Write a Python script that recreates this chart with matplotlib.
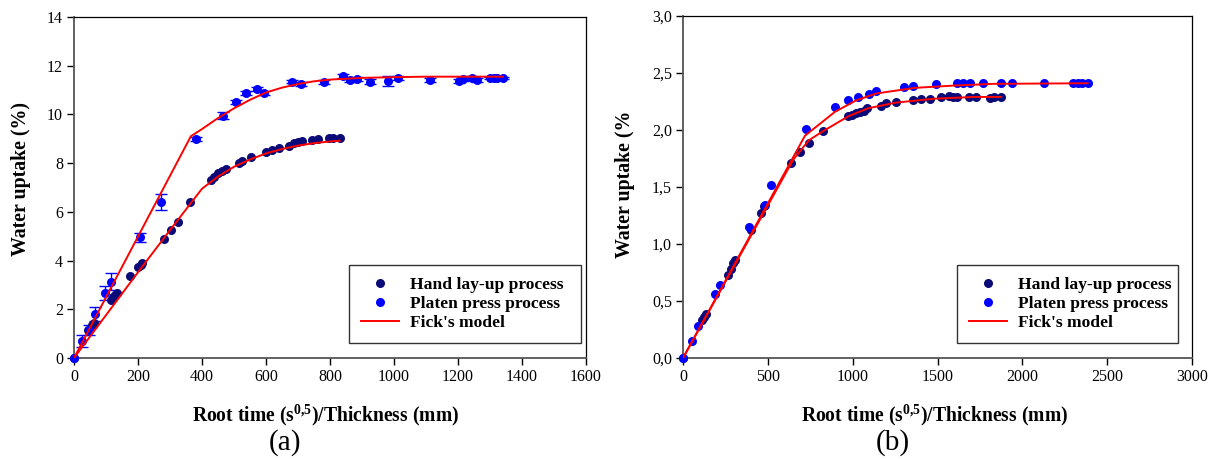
import matplotlib
matplotlib.use("Agg")
import matplotlib.pyplot as plt
from matplotlib.ticker import FuncFormatter, MultipleLocator

plt.rcParams['font.family'] = ['Liberation Serif', 'DejaVu Serif']
plt.rcParams['mathtext.fontset'] = 'custom'
plt.rcParams['mathtext.rm'] = 'Liberation Serif'
plt.rcParams['mathtext.bf'] = 'Liberation Serif:bold'

# ---------------- data: panel (a) ----------------
a_hand_x = [0, 45, 55, 62, 116, 122, 128, 134, 176, 200, 209, 214, 281, 303, 325, 363,
            427, 438, 450, 462, 474, 515, 524, 552, 599, 618, 642, 671, 689, 701, 713,
            743, 761, 797, 809, 830]
a_hand_y = [0, 1.15, 1.35, 1.45, 2.38, 2.5, 2.59, 2.68, 3.37, 3.75, 3.82, 3.88, 4.87, 5.25,
            5.6, 6.42, 7.3, 7.44, 7.58, 7.67, 7.76, 7.99, 8.08, 8.26, 8.45, 8.54, 8.63,
            8.7, 8.81, 8.85, 8.89, 8.97, 9.0, 9.04, 9.04, 9.03]
a_plat_x = [0, 24, 48, 65, 98, 115, 207, 272, 381, 467, 505, 538, 571, 594, 682, 710, 780,
            842, 863, 883, 924, 980, 1013, 1114, 1203, 1217, 1244, 1259, 1299, 1311, 1323, 1340]
a_plat_y = [0, 0.71, 1.15, 1.8, 2.68, 3.13, 4.95, 6.42, 9.0, 9.95, 10.52, 10.89, 11.05, 10.89,
            11.35, 11.24, 11.33, 11.56, 11.41, 11.46, 11.35, 11.37, 11.48, 11.41, 11.38,
            11.45, 11.49, 11.41, 11.49, 11.49, 11.49, 11.49]
a_plat_err = [0, 0.24, 0.2, 0.3, 0.29, 0.34, 0.18, 0.33, 0.08, 0.14, 0.08, 0.08, 0.08, 0.08,
              0.08, 0.08, 0.08, 0.08, 0.08, 0.08, 0.1, 0.2, 0.08, 0.08, 0.08, 0.08, 0.08,
              0.08, 0.05, 0.05, 0.05, 0.05]
a_fick_hand_x = [0, 100, 200, 300, 400, 450, 500, 550, 600, 650, 700, 750, 800, 830]
a_fick_hand_y = [0, 1.76, 3.52, 5.25, 6.95, 7.45, 7.85, 8.15, 8.4, 8.58, 8.72, 8.82, 8.89, 8.92]
a_fick_plat_x = [0, 365, 400, 450, 500, 550, 600, 650, 700, 750, 800, 900, 1000, 1100, 1340]
a_fick_plat_y = [0, 9.1, 9.4, 9.85, 10.25, 10.6, 10.9, 11.1, 11.25, 11.36, 11.43, 11.5,
                 11.53, 11.55, 11.55]

# ---------------- data: panel (b) ----------------
b_hand_x = [0, 111, 121, 135, 267, 285, 297, 306, 401, 457, 480, 638, 689, 742, 826, 974,
            998, 1021, 1044, 1067, 1086, 1165, 1195, 1253, 1357, 1404, 1457, 1520, 1566,
            1594, 1612, 1686, 1728, 1810, 1833, 1875]
b_hand_y = [0, 0.33, 0.36, 0.39, 0.73, 0.78, 0.83, 0.86, 1.12, 1.27, 1.33, 1.71, 1.81, 1.89,
            1.99, 2.12, 2.13, 2.15, 2.16, 2.17, 2.19, 2.21, 2.24, 2.25, 2.26, 2.27, 2.27,
            2.29, 2.30, 2.29, 2.29, 2.29, 2.29, 2.28, 2.29, 2.29]
b_plat_x = [0, 51, 88, 190, 220, 390, 483, 517, 726, 896, 970, 1030, 1097, 1137, 1304, 1357,
            1492, 1617, 1652, 1694, 1770, 1872, 1942, 2130, 2299, 2327, 2350, 2385]
b_plat_y = [0, 0.15, 0.28, 0.56, 0.64, 1.15, 1.34, 1.52, 2.01, 2.20, 2.26, 2.29, 2.32, 2.34,
            2.38, 2.39, 2.40, 2.41, 2.41, 2.41, 2.41, 2.41, 2.41, 2.41, 2.41, 2.41, 2.41, 2.41]
b_fick_hand_x = [0, 650, 742, 826, 974, 1090, 1253, 1485, 1717, 1875]
b_fick_hand_y = [0, 1.74, 1.91, 1.99, 2.12, 2.19, 2.24, 2.275, 2.29, 2.29]
b_fick_plat_x = [0, 719, 896, 1021, 1137, 1369, 1601, 1833, 2385]
b_fick_plat_y = [0, 1.95, 2.16, 2.26, 2.32, 2.37, 2.39, 2.405, 2.41]

labels = ["Hand lay-up process", "Platen press process", "Fick's model"]
xlabel = r"Root time (s$^{\mathbf{0{,}5}}$)/Thickness (mm)"
ylabel_a = "Water uptake (%)"
ylabel_b = "Water uptake (%"

NAVY = '#0a0a78'
BLUE = '#0000ff'
RED = '#ff0000'

W, H = 1217, 459
fig = plt.figure(figsize=(W / 100, H / 100), dpi=100)


def px_axes(l, t, r, b):
    return fig.add_axes([l / W, 1 - b / H, (r - l) / W, (b - t) / H])


axA = px_axes(74, 17, 586, 358)
axB = px_axes(683, 16, 1192, 358)


def style(ax):
    for s in ['left', 'bottom']:
        ax.spines[s].set_color('#555555')
        ax.spines[s].set_linewidth(1.3)
    for s in ['top', 'right']:
        ax.spines[s].set_color('black')
        ax.spines[s].set_linewidth(0.9)
    ax.tick_params(direction='out', length=5, width=1, labelsize=11.5, pad=3,
                   top=False, right=False)


def draw(ax, hx, hy, px, py, perr, fhx, fhy, fpx, fpy):
    h1, = ax.plot(hx, hy, 'o', color=NAVY, ms=6.5, mew=0, zorder=3, clip_on=False)
    if perr is not None:
        ax.errorbar(px, py, yerr=perr, fmt='none', ecolor=BLUE, elinewidth=1,
                    capsize=4, capthick=1, zorder=2)
    h2, = ax.plot(px, py, 'o', color=BLUE, ms=6.5, mew=0, zorder=3, clip_on=False)
    h3, = ax.plot(fhx, fhy, '-', color=RED, lw=1.4, zorder=4)
    ax.plot(fpx, fpy, '-', color=RED, lw=1.4, zorder=4)
    return h1, h2, h3


hs = draw(axA, a_hand_x, a_hand_y, a_plat_x, a_plat_y, a_plat_err,
          a_fick_hand_x, a_fick_hand_y, a_fick_plat_x, a_fick_plat_y)
draw(axB, b_hand_x, b_hand_y, b_plat_x, b_plat_y, None,
     b_fick_hand_x, b_fick_hand_y, b_fick_plat_x, b_fick_plat_y)

style(axA)
style(axB)
axA.set_xlim(0, 1600)
axA.set_ylim(0, 14)
axA.xaxis.set_major_locator(MultipleLocator(200))
axA.yaxis.set_major_locator(MultipleLocator(2))
axB.set_xlim(0, 3000)
axB.set_ylim(0, 3.0)
axB.xaxis.set_major_locator(MultipleLocator(500))
axB.yaxis.set_major_locator(MultipleLocator(0.5))
axB.yaxis.set_major_formatter(FuncFormatter(lambda v, p: f"{v:.1f}".replace('.', ',')))

# legend boxes (pixel extents -> axes fractions)
for ax, (l, r, axl, axw) in [(axA, (349, 581, 74, 512)), (axB, (957, 1178, 683, 509))]:
    x0 = (l - axl) / axw
    w = (r - l) / axw
    leg = ax.legend(hs, labels, loc='lower left', bbox_to_anchor=(x0, 15 / 341, w, 0.3),
                    mode='expand', borderaxespad=0, frameon=True, fancybox=False,
                    prop={'weight': 'bold', 'size': 12.6}, handlelength=2.2,
                    handletextpad=0.6, labelspacing=0.15, borderpad=0.68,
                    markerscale=1.0)
    leg.get_frame().set_edgecolor('black')
    leg.get_frame().set_linewidth(1.0)
    leg.set_zorder(10)

# axis labels
fig.text(326 / W, 1 - 415 / H, xlabel, ha='center', va='center',
         fontsize=14.1, fontweight='bold')
fig.text(935 / W, 1 - 415 / H, xlabel, ha='center', va='center',
         fontsize=14.1, fontweight='bold')
fig.text(21 / W, 1 - 179 / H, ylabel_a, ha='center', va='center', rotation=90,
         fontsize=14.3, fontweight='bold')
fig.text(625 / W, 1 - 258 / H, ylabel_b, ha='center', va='bottom', rotation=90,
         fontsize=14.3, fontweight='bold')
fig.text(284.5 / W, 1 - 443 / H, "(a)", ha='center', va='center', fontsize=21)
fig.text(893 / W, 1 - 443 / H, "(b)", ha='center', va='center', fontsize=21)

fig.savefig("out.png", dpi=100)
